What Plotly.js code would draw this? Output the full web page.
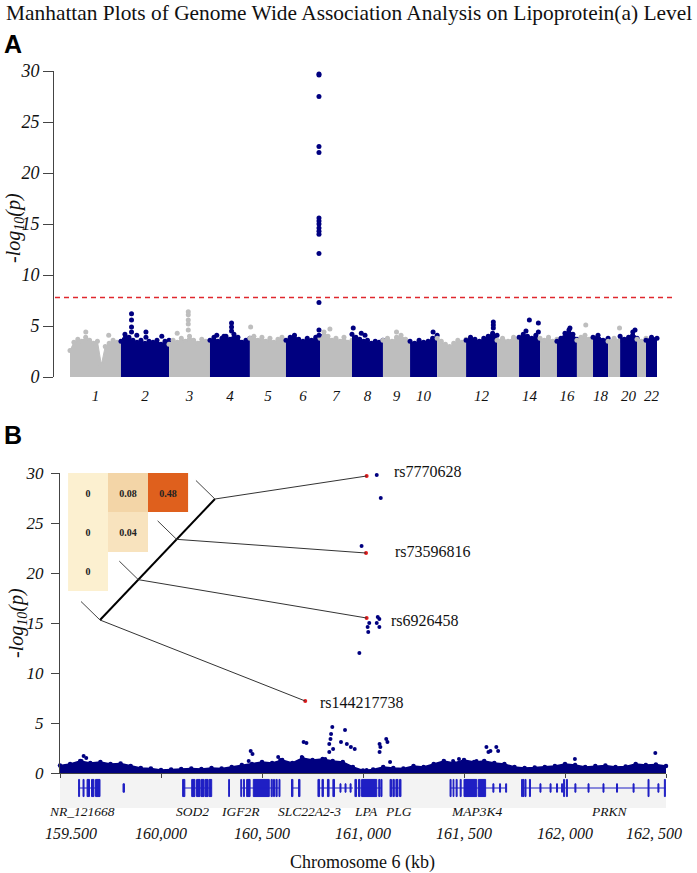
<!DOCTYPE html>
<html>
<head>
<meta charset="utf-8">
<script src="https://cdn.plot.ly/plotly-3.0.1.min.js"></script>
<style>
  html, body { margin: 0; padding: 0; background: #fff; }
  #plot { width: 697px; height: 873px; }
</style>
</head>
<body>
<div id="plot"></div>
<script>
const NAVY = '#000080';
const GRAY = '#bebebe';
const RED = '#e31a1c';
const GENE_BLUE = '#1f1fc4';
const SERIF = 'Liberation Serif, Times New Roman, serif';

// ---------- Panel A: genome wide ----------
// chromosome widths as drawn (Mb-like units)
const chromLen = [250, 236, 201, 196, 177, 167, 157, 152, 133, 133, 142, 152, 108, 103, 83, 98, 79, 74, 59, 83, 44, 54];

// upper edge of the dense cloud of SNPs, left to right inside each chromosome
const chromTops = [
    [2.6, 3.4, 3.7, 3.5, 3.9, 3.6, 3.3, 3.5, 1.2, 3.0, 3.3, 3.6, 3.4, 3.5],
    [3.5, 4.2, 3.9, 3.6, 3.4, 3.6, 3.3, 3.5, 3.4, 3.6, 3.2, 3.5, 3.6],
    [3.2, 3.6, 3.4, 3.8, 3.5, 4.0, 3.6, 3.3, 3.7, 3.5, 3.2],
    [3.6, 3.9, 3.5, 3.8, 4.0, 3.7, 4.2, 3.9, 3.4, 3.6, 3.8],
    [3.8, 4.0, 3.6, 3.9, 3.5, 3.8, 3.4, 3.7, 3.9, 3.5],
    [3.6, 3.9, 4.1, 3.7, 3.5, 3.8, 3.6, 3.9, 4.0],
    [3.8, 4.4, 4.0, 3.6, 3.8, 3.5, 3.9, 3.4, 3.6],
    [4.2, 3.9, 3.7, 3.5, 3.6, 3.3, 3.5, 3.4, 3.6],
    [3.6, 3.8, 3.5, 3.9, 4.1, 3.7, 3.4],
    [3.5, 3.3, 3.6, 3.4, 3.5, 3.8, 4.1],
    [3.8, 3.5, 3.2, 3.0, 3.3, 3.6, 3.4, 3.7],
    [3.6, 3.9, 3.7, 3.5, 3.8, 4.0, 4.3, 4.1],
    [3.6, 3.8, 3.5, 3.9, 3.6],
    [3.9, 4.2, 4.0, 3.8, 4.1, 3.6],
    [3.8, 3.6, 3.9, 3.5, 3.7],
    [3.5, 3.8, 4.3, 4.6, 4.2, 3.7],
    [3.6, 3.9, 4.1, 3.7, 3.5],
    [3.9, 4.1, 3.6, 3.8],
    [3.5, 3.8, 3.6],
    [4.0, 3.7, 3.9, 4.4, 3.8],
    [3.7, 3.5, 3.8],
    [3.6, 3.9, 3.8]
];

// single SNPs standing above the cloud
const peakChr = [1, 1, 2, 2, 2, 2, 2, 2, 2, 2, 3, 3, 3, 3, 3, 3, 4, 4, 4, 4, 4, 5,
    6, 6, 6, 6, 6, 6, 6, 6, 6, 6, 6, 6, 6, 6, 6,
    7, 8, 8, 8, 9, 10, 12, 12, 12, 14, 14, 14, 14, 16, 17, 19, 20];
const peakRel = [0.31, 0.76, 0.22, 0.22, 0.22, 0.22, 0.33, 0.52, 0.52, 0.85, 0.47, 0.47, 0.47, 0.47, 0.47, 0.2, 0.54, 0.54, 0.54, 0.17, 0.35, 0.02,
    0.97, 0.97, 0.97, 0.97, 0.97, 0.97, 0.97, 0.97, 0.97, 0.97, 0.97, 0.97, 0.97, 0.97, 0.97,
    0.31, 0.04, 0.3, 0.42, 0.5, 0.85, 0.88, 0.88, 0.88, 0.49, 0.92, 0.92, 0.33, 0.65, 0.55, 0.95, 0.88];
const peakP = [4.4, 4.1, 6.2, 5.6, 4.9, 4.4, 4.1, 4.4, 3.9, 4.0, 6.4, 6.1, 5.6, 5.2, 4.6, 4.3, 5.3, 4.9, 4.5, 4.1, 4.0, 4.9,
    29.7, 29.6, 27.5, 22.6, 22.0, 15.6, 15.3, 15.0, 14.6, 14.3, 14.0, 12.1, 7.3, 4.6, 4.1,
    4.7, 4.8, 4.3, 4.1, 4.4, 4.4, 5.4, 5.1, 4.8, 5.6, 5.3, 4.4, 4.5, 4.8, 5.1, 4.8, 4.6];

const chromLabels = [1, 2, 3, 4, 5, 6, 7, 8, 9, 10, 12, 14, 16, 18, 20, 22];
const gwThreshold = 7.8;

// ---------- Panel B: chromosome 6 region (kb) ----------
const bandKb = [159500, 159550, 159600, 159650, 159700, 159750, 159800, 159850, 159900, 159950,
    160000, 160050, 160100, 160150, 160200, 160250, 160300, 160350, 160400, 160450,
    160500, 160550, 160600, 160650, 160700, 160750, 160800, 160850, 160900, 160950,
    161000, 161050, 161100, 161150, 161200, 161250, 161300, 161350, 161400, 161450,
    161500, 161550, 161600, 161650, 161700, 161750, 161800, 161850, 161900, 161950,
    162000, 162050, 162100, 162150, 162200, 162250, 162300, 162350, 162400, 162450, 162500];
const bandTop = [0.75, 0.9, 1.2, 1.0, 1.1, 0.9, 0.95, 0.7, 0.5, 0.45,
    0.3, 0.35, 0.4, 0.45, 0.4, 0.5, 0.45, 0.6, 0.8, 0.9,
    1.1, 1.0, 1.3, 1.0, 1.5, 1.3, 1.4, 1.2, 1.1, 0.6,
    0.25, 0.35, 0.6, 0.5, 0.45, 0.7, 0.6, 0.9, 1.2, 1.0,
    1.3, 1.1, 1.2, 1.0, 0.9, 0.6, 0.5, 0.55, 0.6, 0.7,
    0.9, 0.8, 0.6, 0.7, 0.75, 0.6, 0.65, 0.9, 0.8, 0.85, 0.7];

const snpKb = [161068, 161088, 160993, 161073, 161081, 161031, 161068, 161081, 161023, 161026, 160982,
    159617, 159607, 159630, 160444, 160453, 160434, 160590, 160580,
    160706, 160720, 160697, 160833, 160839, 160842, 160848, 160852, 160833, 160813,
    160911, 160891, 160920, 160940, 160959, 160911, 161018,
    161082, 161086, 161082, 161115, 161121, 161134,
    161446, 161475, 161562, 161611, 161631, 161660, 161669, 161621, 162049, 162447];
const snpP = [29.8, 27.5, 22.7, 15.6, 15.4, 15.0, 15.0, 14.6, 14.6, 14.1, 12.0,
    1.7, 1.2, 1.5, 2.2, 1.9, 1.2, 1.3, 1.6,
    3.1, 3.0, 1.6, 2.9, 3.4, 3.9, 4.6, 2.4, 2.1, 1.4,
    4.3, 3.1, 2.9, 2.6, 2.4, 0.6, 0.3,
    2.9, 2.6, 2.1, 3.4, 3.1, 1.1,
    1.2, 1.4, 1.2, 2.6, 2.2, 2.6, 2.2, 2.1, 1.4, 2.0];

const leadNames = ['rs7770628', 'rs73596816', 'rs6926458', 'rs144217738'];
const leadKb = [161018, 161015, 161018, 160714];
const leadP = [29.7, 22.0, 15.5, 7.2];

// pairwise LD, upper triangle rows as printed
const ldValues = [
    [0, 0.08, 0.48],
    [0, 0.04, null],
    [0, null, null]
];

const xTickKb = [159500, 160000, 160500, 161000, 161500, 162000, 162500];
const xTickText = ['159.500', '160,000', '160, 500', '161, 000', '161, 500', '162, 000', '162, 500'];

// genes: exons as [start, end] or [start, end, 'u'] for thin (UTR) pieces
const geneNames = ['NR_121668', '', 'SOD2', '', 'IGF2R', '', 'SLC22A2-3', 'LPA', 'PLG', 'MAP3K4', 'PRKN'];
const geneStart = [159592, 159812, 160107, 160335, 160395, 160646, 160777, 160960, 161134, 161431, 161785];
const geneEnd = [159698, 159819, 160251, 160339, 160589, 160688, 160950, 161094, 161188, 161711, 162497];
const geneLabelKb = [159611, null, 160156, null, 160396, null, 160735, 161015, 161178, 161562, 162220];
const geneExons = [
    [[159592, 159597], [159614, 159619], [159634, 159646], [159656, 159668], [159676, 159698]],
    [[159812, 159819, 'u']],
    [[160107, 160118], [160152, 160168], [160176, 160193], [160198, 160213], [160218, 160233], [160238, 160251]],
    [[160335, 160339]],
    [[160395, 160399], [160408, 160413], [160424, 160441], [160457, 160536], [160545, 160551], [160557, 160562], [160569, 160575], [160584, 160589]],
    [[160646, 160653], [160681, 160688]],
    [[160777, 160785], [160797, 160804], [160824, 160832], [160851, 160859], [160886, 160891, 'u'], [160911, 160916, 'u'], [160936, 160941, 'u']],
    [[160960, 160968], [160978, 160985], [160993, 161068], [161078, 161084], [161089, 161094]],
    [[161134, 161141], [161148, 161155], [161163, 161173], [161181, 161188]],
    [[161431, 161436], [161446, 161450], [161461, 161466], [161481, 161486], [161500, 161563], [161571, 161607], [161643, 161648, 'u'], [161676, 161681, 'u'], [161706, 161711, 'u']],
    [[161785, 161790], [161792, 161797], [161802, 161807], [161824, 161829], [161876, 161881, 'u'], [161926, 161931, 'u'], [161958, 161963, 'u'], [161983, 161988, 'u'],
     [161993, 161998], [162007, 162012], [162049, 162054, 'u'], [162114, 162119, 'u'], [162188, 162193, 'u'], [162255, 162260, 'u'], [162337, 162342, 'u'],
     [162411, 162416], [162460, 162465, 'u'], [162492, 162497]]
];

// ---------- layout helpers (pixel positions of the figure) ----------
const W = 697, H = 873;
const px = v => v / W;
const py = v => 1 - v / H;

// LD box placement inside panel B (data units of panel B)
const LD_LEFT = 159540, LD_CELL_W = 198, LD_TOP = 30, LD_CELL_H = 3.93;
// diagonal of the LD tree, bottom and top end, plus the short tick offset
const DIAG_BOTTOM = [159698, 15.3];
const DIAG_TOP = [160267, 27.4];
const TICK_OFF = [-94, 1.85];
const LABEL_XSHIFT = [25, 27, 22, 13];
const LABEL_YSHIFT = [4, 2, -2, -1];
// the outermost kb labels sit a little inside their ticks
const KB_LABEL_NUDGE = [55, 0, 0, 0, 0, 0, -60];


function chromStarts() {
    let starts = [];
    let acc = 0;
    chromLen.forEach(len => { starts.push(acc); acc += len; });
    return starts;
}

function panelA(traces, starts) {
    chromTops.forEach((tops, i) => {
        let color = i % 2 === 0 ? GRAY : NAVY;
        let xs = tops.map((_, k) => starts[i] + chromLen[i] * k / (tops.length - 1));
        traces.push({
            x: xs, y: tops,
            type: 'scatter', mode: 'lines+markers',
            fill: 'tozeroy', fillcolor: color,
            line: { color: color, width: 1 },
            marker: { color: color, size: 5 },
            xaxis: 'x', yaxis: 'y',
            hoverinfo: 'skip', cliponaxis: false
        });
    });

    traces.push({
        x: peakChr.map((c, k) => starts[c - 1] + chromLen[c - 1] * peakRel[k]),
        y: peakP,
        type: 'scatter', mode: 'markers',
        marker: { color: peakChr.map(c => c % 2 ? GRAY : NAVY), size: 5 },
        xaxis: 'x', yaxis: 'y',
        hoverinfo: 'skip', cliponaxis: false
    });
}

function panelB(traces) {
    // LD heatmap, rows bottom to top
    let rows = ldValues.slice().reverse();
    let yc = ldValues.map((_, r) => LD_TOP - (r + 0.5) * LD_CELL_H).reverse();
    let xc = ldValues[0].map((_, c) => LD_LEFT + (c + 0.5) * LD_CELL_W);
    traces.push({
        type: 'heatmap',
        x: xc, y: yc, z: rows,
        text: rows.map(r => r.map(v => v === null ? ' ' : String(v))),
        texttemplate: '%{text}',
        textfont: { family: SERIF, size: 10, color: '#222', weight: 'bold' },
        zmin: 0, zmax: 0.48,
        colorscale: [[0, '#fcf0d0'], [0.083, '#f8e3be'], [0.167, '#f3d5a7'], [1, '#df601d']],
        showscale: false,
        xaxis: 'x2', yaxis: 'y2',
        hoverinfo: 'skip'
    });

    traces.push({
        x: bandKb, y: bandTop,
        type: 'scatter', mode: 'lines+markers',
        fill: 'tozeroy', fillcolor: NAVY,
        line: { color: NAVY, width: 1.5 },
        marker: { color: NAVY, size: 4.5 },
        xaxis: 'x2', yaxis: 'y2',
        hoverinfo: 'skip', cliponaxis: false
    });

    traces.push({
        x: snpKb, y: snpP,
        type: 'scatter', mode: 'markers',
        marker: { color: NAVY, size: 4 },
        xaxis: 'x2', yaxis: 'y2',
        hoverinfo: 'skip', cliponaxis: false
    });

    traces.push({
        x: leadKb, y: leadP,
        type: 'scatter', mode: 'markers',
        marker: { color: RED, size: 4 },
        xaxis: 'x2', yaxis: 'y2',
        hoverinfo: 'skip', cliponaxis: false
    });

    // gene bodies
    let lx = [], ly = [];
    geneStart.forEach((s, i) => { lx.push(s, geneEnd[i], null); ly.push(0, 0, null); });
    traces.push({
        x: lx, y: ly,
        type: 'scatter', mode: 'lines',
        line: { color: GENE_BLUE, width: 1 },
        xaxis: 'x3', yaxis: 'y3',
        hoverinfo: 'skip'
    });

    // exons
    let ex = [], ew = [], eb = [], eh = [];
    geneExons.forEach(list => list.forEach(e => {
        let h = e[2] === 'u' ? 0.28 : 0.57;
        ex.push((e[0] + e[1]) / 2);
        ew.push(e[1] - e[0]);
        eb.push(-h);
        eh.push(2 * h);
    }));
    traces.push({
        type: 'bar',
        x: ex, y: eh, base: eb, width: ew,
        marker: { color: GENE_BLUE, line: { color: GENE_BLUE, width: 1 } },
        xaxis: 'x3', yaxis: 'y3',
        hoverinfo: 'skip'
    });
}

function treeShapes() {
    let shapes = [];
    shapes.push({
        type: 'line', xref: 'x2', yref: 'y2',
        x0: DIAG_BOTTOM[0], y0: DIAG_BOTTOM[1], x1: DIAG_TOP[0], y1: DIAG_TOP[1],
        line: { color: '#000', width: 2 }
    });
    let n = leadNames.length;
    leadNames.forEach((_, i) => {
        let t = (n - 1 - i) / (n - 1);
        let jx = DIAG_BOTTOM[0] + (DIAG_TOP[0] - DIAG_BOTTOM[0]) * t;
        let jy = DIAG_BOTTOM[1] + (DIAG_TOP[1] - DIAG_BOTTOM[1]) * t;
        shapes.push({
            type: 'line', xref: 'x2', yref: 'y2',
            x0: jx, y0: jy, x1: jx + TICK_OFF[0], y1: jy + TICK_OFF[1],
            line: { color: '#444', width: 1 }
        });
        shapes.push({
            type: 'line', xref: 'x2', yref: 'y2',
            x0: jx, y0: jy, x1: leadKb[i], y1: leadP[i],
            line: { color: '#333', width: 1 }
        });
    });
    return shapes;
}

function draw() {
    let starts = chromStarts();
    let total = chromLen.reduce((a, b) => a + b, 0);
    let traces = [];
    panelA(traces, starts);
    panelB(traces);

    let unitA = (657 - 70) / total;

    let shapes = treeShapes();
    shapes.push({
        type: 'line', xref: 'x', yref: 'y',
        x0: -(70 - 55) / unitA, x1: total + (673 - 657) / unitA,
        y0: gwThreshold, y1: gwThreshold,
        line: { color: '#e0282e', width: 1.5, dash: '5px,4px' }
    });
    shapes.push({
        type: 'rect', xref: 'x3 domain', yref: 'y3 domain',
        x0: 0, x1: 1, y0: 0, y1: 1,
        fillcolor: '#f3f3f3', line: { width: 0 }, layer: 'below'
    });

    let italic = (size) => ({ family: SERIF, size: size, color: '#111', style: 'italic' });
    let sansBold = { family: 'Liberation Sans, Arial, sans-serif', size: 25, color: '#000', weight: 'bold' };

    let annotations = [
        { text: 'Manhattan Plots of Genome Wide Association Analysis on Lipoprotein(a) Level',
          xref: 'paper', yref: 'paper', x: px(349), y: py(13), xanchor: 'center', yanchor: 'middle',
          showarrow: false, font: { family: SERIF, size: 21.4, color: '#111' } },
        { text: 'A', xref: 'paper', yref: 'paper', x: px(2), y: py(44), xanchor: 'left', yanchor: 'middle',
          showarrow: false, font: sansBold },
        { text: 'B', xref: 'paper', yref: 'paper', x: px(2), y: py(435), xanchor: 'left', yanchor: 'middle',
          showarrow: false, font: sansBold },
        { text: '-log<sub>10</sub>(p)', xref: 'paper', yref: 'paper', x: px(15), y: py(228), textangle: -90,
          xanchor: 'center', yanchor: 'middle', showarrow: false, font: italic(20) },
        { text: '-log<sub>10</sub>(p)', xref: 'paper', yref: 'paper', x: px(17), y: py(623), textangle: -90,
          xanchor: 'center', yanchor: 'middle', showarrow: false, font: italic(20) },
        { text: 'Pairwise LD', xref: 'x2', yref: 'y2', x: LD_LEFT + 1.5 * LD_CELL_W * 0.82, y: 32.4,
          xanchor: 'center', yanchor: 'middle', showarrow: false, font: { family: SERIF, size: 16, color: '#111' } },
        { text: 'Chromosome 6 (kb)', xref: 'paper', yref: 'paper', x: px(362), y: py(862),
          xanchor: 'center', yanchor: 'middle', showarrow: false, font: { family: SERIF, size: 18, color: '#111' } }
    ];

    leadNames.forEach((name, i) => {
        annotations.push({
            text: name, xref: 'x2', yref: 'y2', x: leadKb[i], y: leadP[i],
            xanchor: 'left', yanchor: 'middle', xshift: LABEL_XSHIFT[i], yshift: LABEL_YSHIFT[i],
            showarrow: false, font: { family: SERIF, size: 16, color: '#111' }
        });
    });

    geneNames.forEach((name, i) => {
        if (!name) return;
        annotations.push({
            text: name, xref: 'x3', yref: 'paper', x: geneLabelKb[i], y: py(811),
            xanchor: 'center', yanchor: 'middle', showarrow: false, font: italic(13.5)
        });
    });

    let yTicks = [0, 5, 10, 15, 20, 25, 30];

    let layout = {
        width: W,
        height: H,
        margin: { l: 0, r: 0, t: 0, b: 0 },
        paper_bgcolor: '#fff',
        plot_bgcolor: 'rgba(0,0,0,0)',
        showlegend: false,
        xaxis: {
            domain: [px(53), px(690)],
            anchor: 'y',
            range: [-(70 - 53) / unitA, total + (690 - 657) / unitA],
            showline: false, showgrid: false, zeroline: false,
            ticks: '',
            tickvals: chromLabels.map(c => starts[c - 1] + chromLen[c - 1] / 2),
            ticktext: chromLabels.map(String),
            tickfont: italic(15),
            ticklabelstandoff: 8,
            fixedrange: true
        },
        yaxis: {
            domain: [py(377), py(71)],
            anchor: 'free', position: px(53),
            range: [0, 30],
            showline: true, linecolor: '#444', linewidth: 1,
            showgrid: false, zeroline: false,
            ticks: 'outside', ticklen: 10, tickcolor: '#444',
            tickvals: yTicks,
            tickfont: italic(18),
            fixedrange: true
        },
        xaxis2: {
            domain: [px(60), px(666)],
            anchor: 'y2',
            range: [159500, 162500],
            showline: true, linecolor: '#444', linewidth: 1,
            showgrid: false, zeroline: false,
            ticks: 'outside', ticklen: 4, tickcolor: '#444',
            tickvals: xTickKb,
            showticklabels: false,
            fixedrange: true
        },
        yaxis2: {
            domain: [py(773), py(473)],
            anchor: 'x2',
            range: [0, 30],
            showline: true, linecolor: '#444', linewidth: 1,
            showgrid: false, zeroline: false,
            ticks: 'outside', ticklen: 8, tickcolor: '#444',
            tickvals: yTicks,
            tickfont: italic(17),
            ticklabelstandoff: 4,
            fixedrange: true
        },
        xaxis3: {
            domain: [px(60), px(666)],
            anchor: 'y3',
            matches: 'x2',
            showline: false, showgrid: false, zeroline: false,
            ticks: '',
            tickvals: xTickKb.map((v, i) => v + KB_LABEL_NUDGE[i]),
            ticktext: xTickText,
            tickfont: italic(16),
            ticklabelstandoff: 14,
            fixedrange: true
        },
        yaxis3: {
            domain: [py(808), py(773)],
            anchor: 'x3',
            range: [-1.333, 1],
            visible: false
        },
        bargap: 0,
        shapes: shapes,
        annotations: annotations
    };

    Plotly.newPlot(document.getElementById('plot'), traces, layout, { displayModeBar: false, staticPlot: true });
}

draw();
</script>
</body>
</html>
